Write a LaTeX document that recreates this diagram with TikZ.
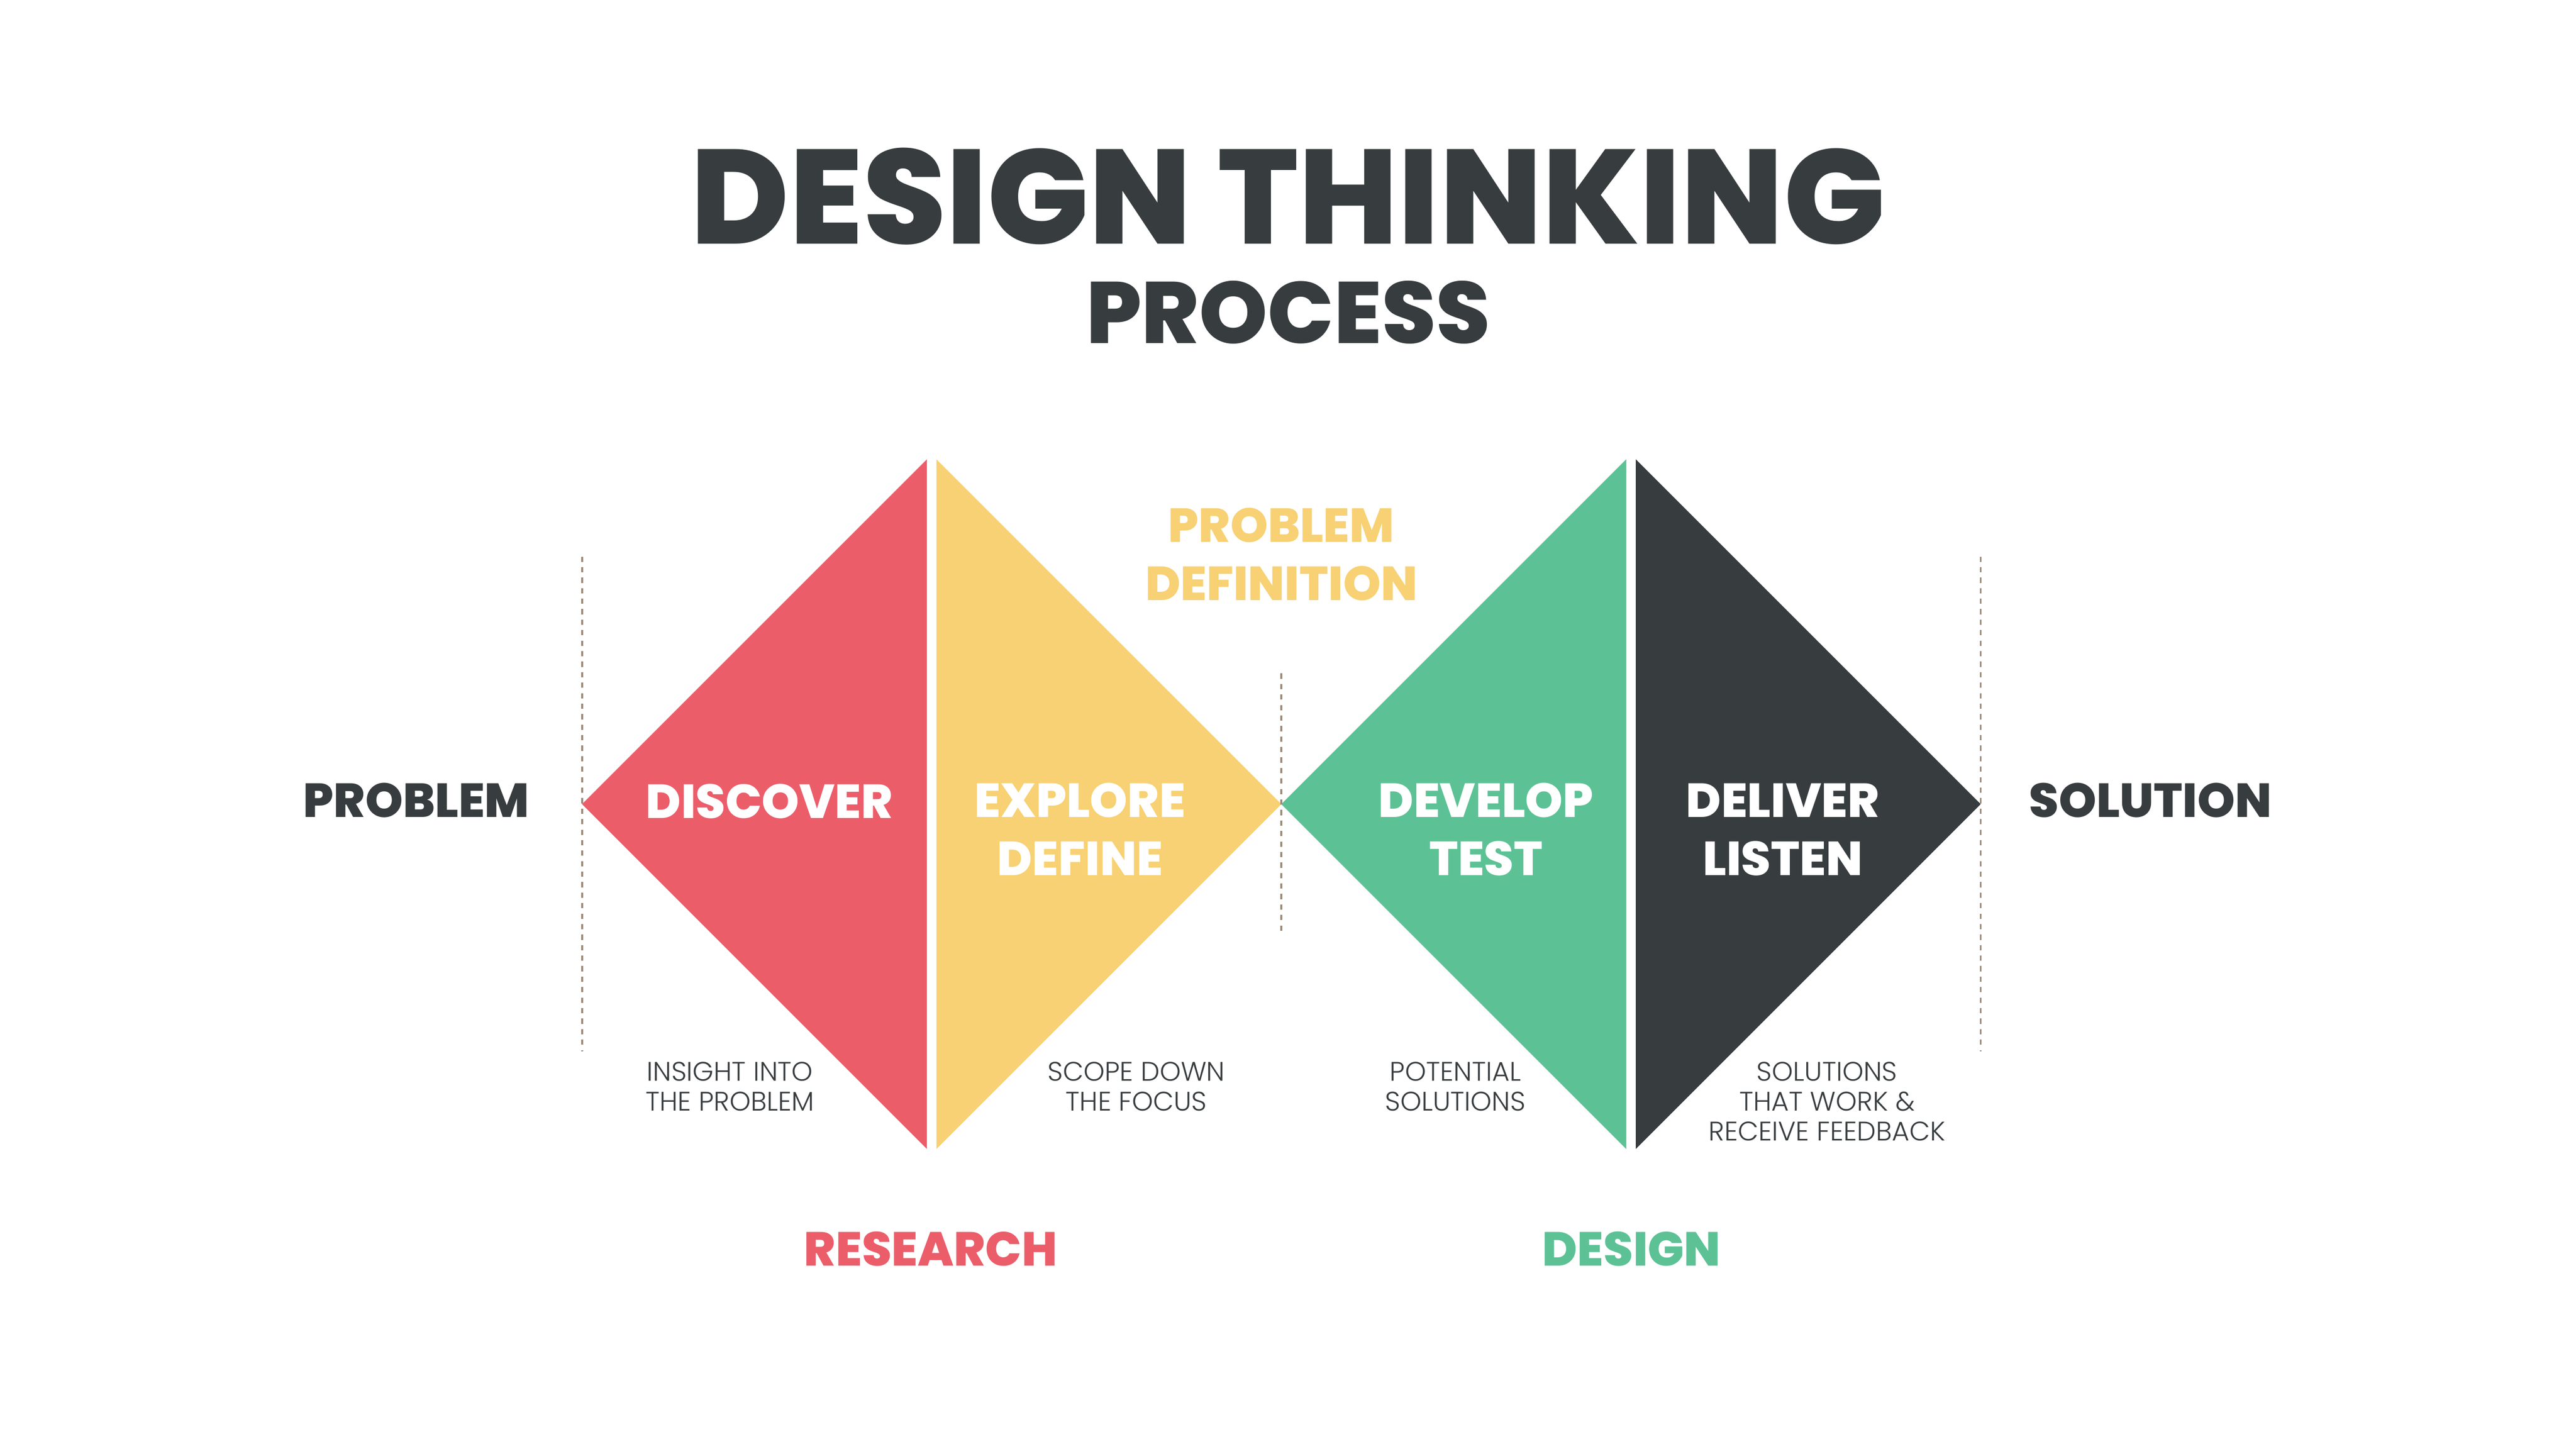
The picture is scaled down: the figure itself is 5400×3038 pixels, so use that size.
\documentclass[tikz,border=0pt]{standalone}
\usepackage{fontspec}
\setmainfont{Poppins}
\newfontfamily\heavyfont{Poppins ExtraBold}
\newfontfamily\thinfont{Poppins Light}
\definecolor{dtred}{HTML}{EC5D6A}
\definecolor{dtyellow}{HTML}{F7D173}
\definecolor{dtgreen}{HTML}{5CC295}
\definecolor{dtdark}{HTML}{373C3F}
\definecolor{dtgray}{HTML}{9A8C7C}
\tikzset
{
    bigword/.style  = {font=\heavyfont\fontsize{28.5}{34.7}\selectfont, align=center, anchor=base, inner sep=0pt},
    thinnote/.style = {font=\thinfont\fontsize{16}{17.9}\selectfont, text=dtdark, align=center, anchor=base, inner sep=0pt},
    guide/.style    = {draw=dtgray, line width=1.2pt, dash pattern=on 0.11cm off 0.11cm}
}

\begin{document}
\begin{tikzpicture}[x=0.01cm, y=-0.01cm]
\useasboundingbox[fill=white] (0,0) rectangle (5400,3038);

% title
\node (title)[anchor=base, inner sep=0pt, text=dtdark, font=\heavyfont\fontsize{80}{84}\selectfont] at (2700,511) {DESIGN THINKING};
\node (sub)[anchor=base, inner sep=0pt, text=dtdark, font=\heavyfont\fontsize{52}{56}\selectfont] at (2700,720) {PROCESS};

% diamond halves
\fill[dtred]    (1220,1686) -- (1943,963) -- (1943,2409) -- cycle;
\fill[dtyellow] (2686,1686) -- (1963,963) -- (1963,2409) -- cycle;
\fill[dtgreen]  (2686,1686) -- (3409,963) -- (3409,2409) -- cycle;
\fill[dtdark]   (4152,1686) -- (3429,963) -- (3429,2409) -- cycle;

% dashed guides
\coordinate (gla) at (1220,1167);
\coordinate (glb) at (1220,2204);
\coordinate (gma) at (2686,1412);
\coordinate (gmb) at (2686,1961);
\coordinate (gra) at (4152,1167);
\coordinate (grb) at (4152,2204);
\draw[guide] (gla) -- (glb);
\draw[guide] (gma) -- (gmb);
\draw[guide] (gra) -- (grb);

% base = last line
\node (def)[bigword, text=dtyellow] 	at (2686,1259) {PROBLEM\\DEFINITION};
\node (prob)[bigword, text=dtdark] 		at (873,1713)  {PROBLEM};
\node (sol)[bigword, text=dtdark] 		at (4508,1713) {SOLUTION};

\node (disc)[bigword, text=white] 		at (1613,1716) {DISCOVER};
\node (expl)[bigword, text=white] 		at (2264,1835) {EXPLORE\\DEFINE};
\node (devl)[bigword, text=white] 		at (3115,1835) {DEVELOP\\TEST};
\node (delv)[bigword, text=white] 		at (3737,1835) {DELIVER\\LISTEN};

\node (ndisc)[thinnote] 	at (1530,2329) {INSIGHT INTO\\THE PROBLEM};
\node (nexpl)[thinnote] 	at (2382,2329) {SCOPE DOWN\\THE FOCUS};
\node (ndevl)[thinnote] 	at (3051,2329) {POTENTIAL\\SOLUTIONS};
\node (ndelv)[thinnote] 	at (3830,2392) {SOLUTIONS\\THAT WORK \&\\RECEIVE FEEDBACK};

\node (res)[bigword, text=dtred] 		at (1951,2654) {RESEARCH};
\node (des)[bigword, text=dtgreen] 		at (3420,2654) {DESIGN};
\end{tikzpicture}
\end{document}
